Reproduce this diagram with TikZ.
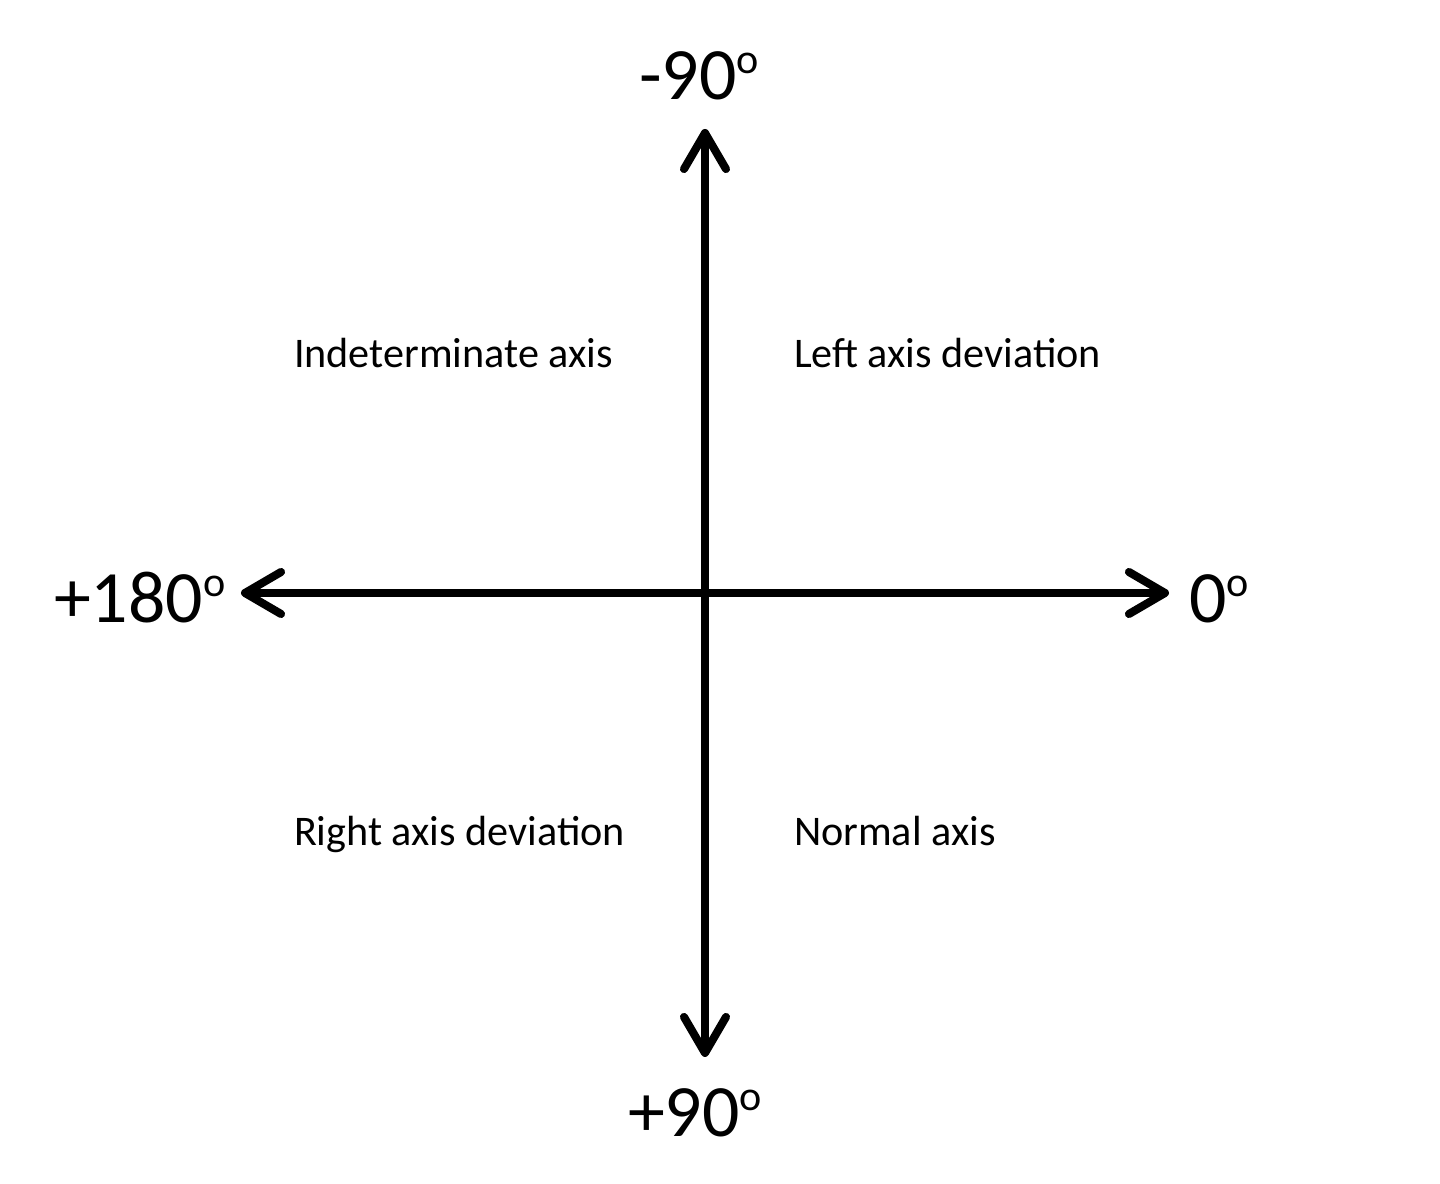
\documentclass[tikz,border=0pt]{standalone}
\usepackage{fontspec}
\setmainfont{Carlito}
\usetikzlibrary{positioning}
\usetikzlibrary{arrows.meta}
\def\axislen{4.64cm}
\newcommand{\dg}{\raisebox{7.5pt}{\fontsize{12}{12}\selectfont o}}
\begin{document}
\begin{tikzpicture}[line width=2.3pt, line cap=round]
        \tikzstyle{axis}=[{Straight Barb[length=0.36cm,width=0.42cm,line width=2.3pt,round]}-{Straight Barb[length=0.36cm,width=0.42cm,line width=2.3pt,round]}]
        \tikzstyle{angle}=[inner sep=0pt, font=\fontsize{21}{25}\selectfont]
        \tikzstyle{zone}=[inner sep=0pt, font=\fontsize{12}{15}\selectfont]

        \useasboundingbox (-7.05,5.93) rectangle (7.35,-5.91);

        % Axis ends
        \coordinate (O) at (0,0);
        \coordinate (top) at (0,\axislen);
        \coordinate (bottom) at (0,-\axislen);
        \coordinate (left) at (-\axislen,0);
        \coordinate (right) at (\axislen,0);

        % Draw the axes
        \draw[axis] (bottom) -- (top);
        \draw[axis] (left) -- (right);

        % Angle labels
        \node[angle, anchor=base west] (a-top) at (-0.70,4.93) {-90\dg};
        \node[angle, anchor=base west] (a-left) at (-6.55,-0.30) {+180\dg};
        \node[angle, anchor=base west] (a-right) at (4.80,-0.30) {0\dg};
        \node[angle, anchor=base west] (a-bottom) at (-0.81,-5.44) {+90\dg};

        % Annotate the quadrants
        \node[zone, anchor=base west] (q-ul) at (-4.15,2.25) {Indeterminate axis};
        \node[zone, anchor=base west] (q-ur) at (0.85,2.25) {Left axis deviation};
        \node[zone, anchor=base west] (q-ll) at (-4.15,-2.53) {Right axis deviation};
        \node[zone, anchor=base west] (q-lr) at (0.85,-2.53) {Normal axis};

\end{tikzpicture}
\end{document}
